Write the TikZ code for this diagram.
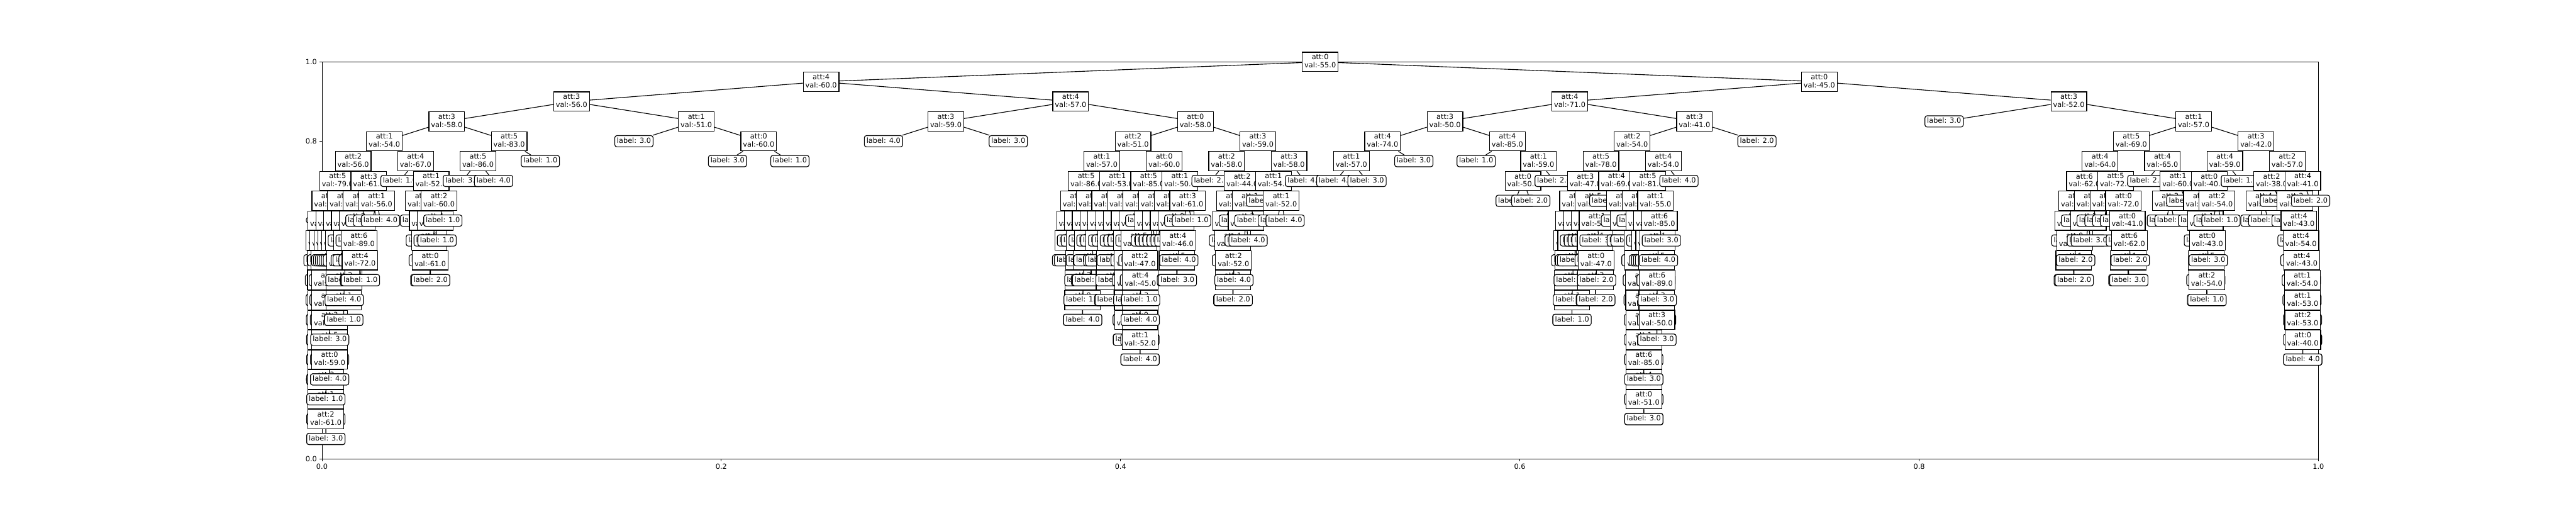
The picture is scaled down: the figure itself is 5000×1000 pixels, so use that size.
\documentclass[tikz,border=0pt]{standalone}
\usepackage{fontspec}
\setmainfont{DejaVu Sans}
\expandafter\def\csname tX@r\endcsname{2562.5}
\expandafter\def\csname tO@r\endcsname{968.75}
\expandafter\def\csname tD@r\endcsname{0}
\newcommand\place[5]{%
  \pgfmathsetmacro\tnX{\csname tX@#2\endcsname #3 \csname tO@#2\endcsname}%
  \pgfmathsetmacro\tnO{\csname tO@#2\endcsname/2}%
  \pgfmathtruncatemacro\tnD{\csname tD@#2\endcsname+1}%
  \expandafter\xdef\csname tX@#1\endcsname{\tnX}%
  \expandafter\xdef\csname tO@#1\endcsname{\tnO}%
  \expandafter\xdef\csname tD@#1\endcsname{\tnD}%
  \pgfmathsetmacro\tnY{120+38.5*\tnD}%
  \node[#4] (#1) at (\tnX,\tnY) {#5};
  \draw[edge] (#2) -- (#1);
}
\newcommand\DN[5]{\place{#1}{#2}{#3}{dec}{att:#4\\val:#5}}
\newcommand\LN[4]{\place{#1}{#2}{#3}{leaf}{label: #4}}
\begin{document}
\begin{tikzpicture}[x=0.01in,y=-0.01in,
  font=\fontsize{10}{11.3}\selectfont,
  dec/.style={draw=black,fill=white,line width=1pt,inner sep=3pt,text depth=2.3pt,minimum height=27.1pt,align=center},
  leaf/.style={draw=black,fill=white,line width=1pt,rounded corners=3pt,inner sep=3pt,text height=7.5pt,text depth=2.3pt},
  edge/.style={draw=black,line width=1pt},
  tick/.style={line width=0.8pt},
  ticklab/.style={inner sep=0pt}]
\fill[white] (0,0) rectangle (5000,1000);
\useasboundingbox (0,0) rectangle (5000,1000);
\draw[line width=0.8pt] (625,120) rectangle (4500,890);
\foreach \v/\t in {0/0.0,1/0.2,2/0.4,3/0.6,4/0.8,5/1.0} {
  \draw[tick] ({625+775*\v},890) -- ++(0,4.86);
  \node[ticklab,anchor=north] (xt\v) at ({625+775*\v},899.7) {\t};
  \draw[tick] (625,{890-154*\v}) -- ++(-4.86,0);
  \node[ticklab,anchor=east] (yt\v) at (615.3,{890-154*\v}) {\t};
}
\node[dec] (r) at (2562.5,120) {att:0\\val:-55.0};
% ===== left half =====
\DN{a}{r}{-}{4}{-60.0}
\DN{aa}{a}{-}{3}{-56.0}
\DN{aaa}{aa}{-}{3}{-58.0}
\DN{b}{aaa}{-}{1}{-54.0}
\DN{b1}{b}{-}{2}{-56.0}
\DN{b11}{b1}{-}{5}{-79.0}
\DN{c1}{b11}{-}{0}{-58.0}
\DN{c11}{c1}{-}{4}{-61.0}
\DN{c111}{c11}{-}{2}{-60.0}
\LN{A10l}{c111}{-}{1.0}
\DN{A10}{c111}{+}{4}{-60.0}
\LN{A11l}{A10}{-}{3.0}
\DN{A11}{A10}{+}{1}{-58.0}
\LN{A12l}{A11}{-}{4.0}
\DN{A12}{A11}{+}{5}{-62.0}
\LN{A13l}{A12}{-}{1.0}
\DN{A13}{A12}{+}{2}{-59.0}
\LN{A14l}{A13}{-}{3.0}
\DN{A14}{A13}{+}{0}{-57.0}
\LN{A15l}{A14}{-}{4.0}
\DN{A15}{A14}{+}{6}{-88.0}
\LN{A16l}{A15}{-}{1.0}
\DN{A16}{A15}{+}{3}{-60.0}
\DN{A17}{A16}{-}{1}{-55.0}
\LN{A18l}{A17}{-}{1.0}
\DN{A18}{A17}{+}{2}{-61.0}
\LN{A19l}{A18}{-}{1.0}
\LN{A19r}{A18}{+}{3.0}
\LN{A17r}{A16}{+}{1.0}
\DN{c112}{c11}{+}{3}{-62.0}
\LN{B10l}{c112}{-}{3.0}
\DN{B10}{c112}{+}{0}{-57.0}
\LN{B11l}{B10}{-}{1.0}
\DN{B11}{B10}{+}{4}{-61.0}
\LN{B12l}{B11}{-}{4.0}
\DN{B12}{B11}{+}{1}{-59.0}
\LN{B13l}{B12}{-}{1.0}
\DN{B13}{B12}{+}{3}{-56.0}
\DN{B14}{B13}{-}{5}{-60.0}
\LN{B15l}{B14}{-}{2.0}
\DN{B15}{B14}{+}{0}{-59.0}
\LN{B16l}{B15}{-}{1.0}
\LN{B16r}{B15}{+}{4.0}
\LN{B14r}{B13}{+}{3.0}
\DN{c12}{c1}{+}{6}{-87.0}
\DN{c121}{c12}{-}{1}{-57.0}
\LN{c1211}{c121}{-}{4.0}
\LN{c1212}{c121}{+}{1.0}
\DN{c122}{c12}{+}{2}{-55.0}
\LN{c1221}{c122}{-}{3.0}
\LN{c1222}{c122}{+}{4.0}
\DN{c2}{b11}{+}{1}{-60.0}
\DN{c21}{c2}{-}{0}{-61.0}
\DN{c211}{c21}{-}{4}{-70.0}
\LN{c2111}{c211}{-}{1.0}
\LN{c2112}{c211}{+}{3.0}
\DN{c212}{c21}{+}{2}{-57.0}
\LN{C10l}{c212}{-}{1.0}
\DN{C10}{c212}{+}{2}{-57.0}
\DN{C11}{C10}{-}{3}{-58.0}
\DN{C12}{C11}{-}{1}{-60.0}
\LN{C13l}{C12}{-}{4.0}
\LN{C13r}{C12}{+}{1.0}
\LN{C12r}{C11}{+}{4.0}
\LN{C11r}{C10}{+}{3.0}
\DN{c22}{c2}{+}{5}{-80.0}
\LN{c221}{c22}{-}{3.0}
\DN{c222}{c22}{+}{3}{-59.0}
\LN{c2221}{c222}{-}{4.0}
\LN{c2222}{c222}{+}{1.0}
\DN{b12}{b1}{+}{3}{-61.0}
\DN{c3}{b12}{-}{4}{-66.0}
\DN{c31}{c3}{-}{2}{-62.0}
\LN{c311}{c31}{-}{3.0}
\DN{c312}{c31}{+}{6}{-89.0}
\LN{D10l}{c312}{-}{2.0}
\DN{D10}{c312}{+}{4}{-72.0}
\LN{D11l}{D10}{-}{4.0}
\LN{D11r}{D10}{+}{1.0}
\LN{c32}{c3}{+}{1.0}
\DN{c4}{b12}{+}{1}{-56.0}
\LN{c41}{c4}{-}{1.0}
\LN{c42}{c4}{+}{4.0}
\DN{b2}{b}{+}{4}{-67.0}
\LN{b21}{b2}{-}{1.0}
\DN{b22}{b2}{+}{1}{-52.0}
\DN{d1}{b22}{-}{5}{-84.0}
\LN{d11}{d1}{-}{1.0}
\DN{d12}{d1}{+}{3}{-60.0}
\LN{d121}{d12}{-}{4.0}
\DN{d122}{d12}{+}{6}{-88.0}
\LN{d1221}{d122}{-}{1.0}
\DN{d1222}{d122}{+}{0}{-61.0}
\LN{d12221}{d1222}{-}{1.0}
\LN{d12222}{d1222}{+}{2.0}
\DN{d2}{b22}{+}{2}{-60.0}
\DN{d21}{d2}{-}{4}{-73.0}
\LN{d211}{d21}{-}{4.0}
\LN{d212}{d21}{+}{1.0}
\LN{d22}{d2}{+}{1.0}
\DN{e}{aaa}{+}{5}{-83.0}
\DN{e1}{e}{-}{5}{-86.0}
\LN{e11}{e1}{-}{3.0}
\LN{e12}{e1}{+}{4.0}
\LN{e2}{e}{+}{1.0}
\DN{f}{aa}{+}{1}{-51.0}
\LN{f1}{f}{-}{3.0}
\DN{f2}{f}{+}{0}{-60.0}
\LN{f21}{f2}{-}{3.0}
\LN{f22}{f2}{+}{1.0}
\DN{g}{a}{+}{4}{-57.0}
\DN{g1}{g}{-}{3}{-59.0}
\LN{g11}{g1}{-}{4.0}
\LN{g12}{g1}{+}{3.0}
\DN{h}{g}{+}{0}{-58.0}
\DN{i}{h}{-}{2}{-51.0}
\DN{i1}{i}{-}{1}{-57.0}
\DN{i11}{i1}{-}{5}{-86.0}
\DN{i111}{i11}{-}{2}{-55.0}
\DN{i1111}{i111}{-}{0}{-62.0}
\DN{i11111}{i1111}{-}{3}{-56.0}
\LN{i111111}{i11111}{-}{4.0}
\LN{i111112}{i11111}{+}{1.0}
\LN{i11112}{i1111}{+}{3.0}
\DN{i1112}{i111}{+}{4}{-63.0}
\LN{i11121}{i1112}{-}{1.0}
\DN{i11122}{i1112}{+}{1}{-58.0}
\DN{q10}{i11122}{-}{5}{-80.0}
\DN{q11}{q10}{-}{2}{-59.0}
\DN{q12}{q11}{-}{0}{-60.0}
\LN{q13l}{q12}{-}{3.0}
\LN{q13r}{q12}{+}{4.0}
\LN{q12r}{q11}{+}{1.0}
\LN{q11r}{q10}{+}{4.0}
\LN{q10r}{i11122}{+}{3.0}
\DN{i112}{i11}{+}{3}{-60.0}
\DN{i1121}{i112}{-}{6}{-84.0}
\LN{i11211}{i1121}{-}{4.0}
\DN{i11212}{i1121}{+}{2}{-59.0}
\DN{i112121}{i11212}{-}{0}{-57.0}
\LN{i1121211}{i112121}{-}{1.0}
\LN{i1121212}{i112121}{+}{4.0}
\LN{i112122}{i11212}{+}{3.0}
\DN{i1122}{i112}{+}{1}{-56.0}
\LN{i11221}{i1122}{-}{2.0}
\LN{i11222}{i1122}{+}{4.0}
\DN{i12}{i1}{+}{1}{-53.0}
\DN{i121}{i12}{-}{4}{-62.0}
\DN{i1211}{i121}{-}{3}{-57.0}
\DN{i12111}{i1211}{-}{5}{-81.0}
\LN{i121111}{i12111}{-}{1.0}
\LN{i121112}{i12111}{+}{4.0}
\LN{i12112}{i1211}{+}{3.0}
\DN{i1212}{i121}{+}{0}{-59.0}
\LN{i12121}{i1212}{-}{4.0}
\DN{i12122}{i1212}{+}{2}{-56.0}
\DN{i121221}{i12122}{-}{1}{-55.0}
\DN{i1212211}{i121221}{-}{6}{-86.0}
\LN{s1}{i1212211}{-}{3.0}
\LN{s2}{i1212211}{+}{1.0}
\LN{s3}{i121221}{+}{4.0}
\LN{s4}{i12122}{+}{1.0}
\DN{i122}{i12}{+}{5}{-84.0}
\DN{i1221}{i122}{-}{2}{-58.0}
\LN{i12211}{i1221}{-}{1.0}
\LN{i12212}{i1221}{+}{4.0}
\DN{i1222}{i122}{+}{0}{-60.0}
\LN{E9l}{i1222}{-}{3.0}
\DN{E9}{i1222}{+}{3}{-61.0}
\LN{E10l}{E9}{-}{1.0}
\DN{E10}{E9}{+}{4}{-59.0}
\LN{E11l}{E10}{-}{4.0}
\DN{E11}{E10}{+}{1}{-57.0}
\DN{E12}{E11}{-}{2}{-55.0}
\LN{E13l}{E12}{-}{4.0}
\DN{E13}{E12}{+}{0}{-58.0}
\LN{E14l}{E13}{-}{1.0}
\LN{E14r}{E13}{+}{2.0}
\LN{E12r}{E11}{+}{3.0}
\DN{i2}{i}{+}{0}{-60.0}
\DN{i21}{i2}{-}{5}{-85.0}
\DN{i211}{i21}{-}{3}{-60.0}
\DN{i2111}{i211}{-}{4}{-58.0}
\LN{F9l}{i2111}{-}{4.0}
\DN{F9}{i2111}{+}{5}{-82.0}
\LN{F10l}{F9}{-}{1.0}
\DN{F10}{F9}{+}{2}{-47.0}
\LN{F11l}{F10}{-}{3.0}
\DN{F11}{F10}{+}{4}{-45.0}
\DN{F12}{F11}{-}{3}{-57.0}
\DN{F13}{F12}{-}{0}{-59.0}
\LN{F14l}{F13}{-}{2.0}
\DN{F14}{F13}{+}{1}{-52.0}
\LN{F15l}{F14}{-}{1.0}
\LN{F15r}{F14}{+}{4.0}
\LN{F13r}{F12}{+}{4.0}
\LN{F12r}{F11}{+}{1.0}
\LN{i2112}{i211}{+}{4.0}
\DN{i212}{i21}{+}{1}{-55.0}
\DN{i2121}{i212}{-}{0}{-57.0}
\LN{i21211}{i2121}{-}{3.0}
\LN{i21212}{i2121}{+}{1.0}
\DN{i2122}{i212}{+}{6}{-85.0}
\LN{i21221}{i2122}{-}{4.0}
\LN{i21222}{i2122}{+}{3.0}
\DN{i22}{i2}{+}{1}{-50.0}
\DN{i221}{i22}{-}{2}{-56.0}
\DN{i2211}{i221}{-}{4}{-62.0}
\LN{i22111}{i2211}{-}{1.0}
\LN{i22112}{i2211}{+}{4.0}
\DN{i2212}{i221}{+}{0}{-59.0}
\LN{i22121}{i2212}{-}{2.0}
\DN{i22122}{i2212}{+}{4}{-46.0}
\DN{G10}{i22122}{-}{5}{-84.0}
\LN{G11l}{G10}{-}{1.0}
\LN{G11r}{G10}{+}{3.0}
\LN{G10r}{i22122}{+}{4.0}
\DN{i222}{i22}{+}{3}{-61.0}
\LN{i2221}{i222}{-}{4.0}
\LN{i2222}{i222}{+}{1.0}
\DN{j}{h}{+}{3}{-59.0}
\DN{j1}{j}{-}{2}{-58.0}
\LN{j11}{j1}{-}{2.0}
\DN{j12}{j1}{+}{2}{-44.0}
\DN{j121}{j12}{-}{0}{-60.0}
\DN{j1211}{j121}{-}{5}{-83.0}
\LN{j12111}{j1211}{-}{1.0}
\DN{j12112}{j1211}{+}{4}{-62.0}
\LN{H10l}{j12112}{-}{3.0}
\DN{H10}{j12112}{+}{2}{-52.0}
\DN{H11}{H10}{-}{1}{-56.0}
\LN{H12l}{H11}{-}{4.0}
\LN{H12r}{H11}{+}{2.0}
\LN{H11r}{H10}{+}{4.0}
\LN{j1212}{j121}{+}{1.0}
\DN{j122}{j12}{+}{1}{-49.0}
\DN{j1221}{j122}{-}{3}{-57.0}
\LN{j12211}{j1221}{-}{2.0}
\LN{j12212}{j1221}{+}{4.0}
\LN{j1222}{j122}{+}{1.0}
\DN{j2}{j}{+}{3}{-58.0}
\DN{j21}{j2}{-}{1}{-54.0}
\LN{j211}{j21}{-}{2.0}
\DN{j212}{j21}{+}{1}{-52.0}
\LN{j2121}{j212}{-}{1.0}
\LN{j2122}{j212}{+}{4.0}
\LN{j22}{j2}{+}{4.0}
% ===== right half =====
\DN{k}{r}{+}{0}{-45.0}
\DN{kl}{k}{-}{4}{-71.0}
\DN{m}{kl}{-}{3}{-50.0}
\DN{m1}{m}{-}{4}{-74.0}
\DN{m11}{m1}{-}{1}{-57.0}
\LN{m111}{m11}{-}{4.0}
\LN{m112}{m11}{+}{3.0}
\LN{m12}{m1}{+}{3.0}
\DN{m2}{m}{+}{4}{-85.0}
\LN{m21}{m2}{-}{1.0}
\DN{m22}{m2}{+}{1}{-59.0}
\DN{m221}{m22}{-}{0}{-50.0}
\LN{m2211}{m221}{-}{1.0}
\LN{m2212}{m221}{+}{2.0}
\LN{m222}{m22}{+}{2.0}
\DN{n}{kl}{+}{3}{-41.0}
\DN{n1}{n}{-}{2}{-54.0}
\DN{n11}{n1}{-}{5}{-78.0}
\DN{n111}{n11}{-}{3}{-47.0}
\DN{n1111}{n111}{-}{1}{-58.0}
\DN{n11111}{n1111}{-}{4}{-60.0}
\DN{K9}{n11111}{-}{2}{-56.0}
\LN{K10l}{K9}{-}{3.0}
\DN{K10}{K9}{+}{0}{-57.0}
\DN{K11}{K10}{-}{5}{-79.0}
\DN{K12}{K11}{-}{1}{-55.0}
\LN{K13l}{K12}{-}{4.0}
\LN{K13r}{K12}{+}{1.0}
\LN{K12r}{K11}{+}{2.0}
\LN{K11r}{K10}{+}{3.0}
\DN{K9r}{n11111}{+}{6}{-86.0}
\LN{K9r1}{K9r}{-}{1.0}
\LN{K9r2}{K9r}{+}{2.0}
\DN{n11112}{n1111}{+}{0}{-55.0}
\LN{n111121}{n11112}{-}{2.0}
\LN{n111122}{n11112}{+}{3.0}
\DN{n1112}{n111}{+}{5}{-50.0}
\DN{n11121}{n1112}{-}{2}{-59.0}
\LN{n111211}{n11121}{-}{1.0}
\LN{n111212}{n11121}{+}{3.0}
\DN{n11122}{n1112}{+}{1}{-53.0}
\DN{L9}{n11122}{-}{4}{-60.0}
\LN{L10l}{L9}{-}{1.0}
\DN{L10}{L9}{+}{0}{-47.0}
\DN{L11}{L10}{-}{3}{-56.0}
\LN{L12l}{L11}{-}{1.0}
\LN{L12r}{L11}{+}{2.0}
\LN{L11r}{L10}{+}{2.0}
\LN{L9r}{n11122}{+}{3.0}
\DN{n112}{n11}{+}{4}{-69.0}
\LN{n1121}{n112}{-}{2.0}
\DN{n1122}{n112}{+}{2}{-57.0}
\LN{n11221}{n1122}{-}{1.0}
\DN{n11222}{n1122}{+}{4}{-62.0}
\LN{n112221}{n11222}{-}{2.0}
\LN{n112222}{n11222}{+}{3.0}
\DN{n12}{n1}{+}{4}{-54.0}
\DN{n121}{n12}{-}{5}{-81.0}
\DN{n1211}{n121}{-}{0}{-52.0}
\LN{n12111}{n1211}{-}{3.0}
\DN{n12112}{n1211}{+}{2}{-60.0}
\DN{M9}{n12112}{-}{1}{-57.0}
\LN{M10l}{M9}{-}{4.0}
\DN{M10}{M9}{+}{3}{-59.0}
\LN{M11l}{M10}{-}{2.0}
\DN{M11}{M10}{+}{0}{-56.0}
\LN{M12l}{M11}{-}{3.0}
\DN{M12}{M11}{+}{4}{-61.0}
\LN{M13l}{M12}{-}{1.0}
\DN{M13}{M12}{+}{2}{-58.0}
\LN{M14l}{M13}{-}{2.0}
\DN{M14}{M13}{+}{1}{-57.0}
\LN{M15l}{M14}{-}{1.0}
\DN{M15}{M14}{+}{6}{-85.0}
\DN{M16}{M15}{-}{4}{-60.0}
\LN{M17l}{M16}{-}{2.0}
\DN{M17}{M16}{+}{0}{-51.0}
\LN{M18l}{M17}{-}{1.0}
\LN{M18r}{M17}{+}{3.0}
\LN{M16r}{M15}{+}{3.0}
\LN{M9r}{n12112}{+}{4.0}
\DN{n1212}{n121}{+}{1}{-55.0}
\DN{n12121}{n1212}{-}{3}{-58.0}
\DN{n121211}{n12121}{-}{2}{-60.0}
\LN{n1212111}{n121211}{-}{1.0}
\LN{n1212112}{n121211}{+}{4.0}
\DN{n121212}{n12121}{+}{0}{-56.0}
\LN{n1212121}{n121212}{-}{3.0}
\LN{n1212122}{n121212}{+}{2.0}
\DN{n12122}{n1212}{+}{6}{-85.0}
\DN{N9}{n12122}{-}{1}{-56.0}
\DN{N10}{N9}{-}{5}{-80.0}
\LN{N11l}{N10}{-}{1.0}
\DN{N11}{N10}{+}{6}{-89.0}
\DN{N12}{N11}{-}{3}{-58.0}
\LN{N13l}{N12}{-}{2.0}
\DN{N13}{N12}{+}{3}{-50.0}
\LN{N14l}{N13}{-}{1.0}
\LN{N14r}{N13}{+}{3.0}
\LN{N12r}{N11}{+}{3.0}
\LN{N10r}{N9}{+}{4.0}
\LN{N9r}{n12122}{+}{3.0}
\LN{n122}{n12}{+}{4.0}
\LN{n2}{n}{+}{2.0}
\DN{o}{k}{+}{3}{-52.0}
\LN{o1}{o}{-}{3.0}
\DN{p}{o}{+}{1}{-57.0}
\DN{p1}{p}{-}{5}{-69.0}
\DN{p11}{p1}{-}{4}{-64.0}
\DN{p111}{p11}{-}{6}{-62.0}
\DN{p1111}{p111}{-}{2}{-39.0}
\DN{p11111}{p1111}{-}{0}{-36.0}
\LN{p111111}{p11111}{-}{2.0}
\DN{p111112}{p11111}{+}{0}{-35.0}
\DN{p1111121}{p111112}{-}{1}{-62.0}
\LN{p11111211}{p1111121}{-}{3.0}
\LN{p11111212}{p1111121}{+}{2.0}
\LN{p1111122}{p111112}{+}{2.0}
\LN{p11112}{p1111}{+}{3.0}
\DN{p1112}{p111}{+}{4}{-41.0}
\DN{p11121}{p1112}{-}{1}{-37.0}
\LN{p111211}{p11121}{-}{2.0}
\LN{p111212}{p11121}{+}{3.0}
\LN{p11122}{p1112}{+}{2.0}
\DN{p112}{p11}{+}{5}{-72.0}
\DN{p1121}{p112}{-}{0}{-44.0}
\LN{p11211}{p1121}{-}{2.0}
\LN{p11212}{p1121}{+}{3.0}
\DN{p1122}{p112}{+}{0}{-72.0}
\LN{p11221}{p1122}{-}{2.0}
\DN{p11222}{p1122}{+}{0}{-41.0}
\LN{p112221}{p11222}{-}{3.0}
\DN{p112222}{p11222}{+}{6}{-62.0}
\DN{p1122221}{p112222}{-}{1}{-48.0}
\LN{p11222211}{p1122221}{-}{2.0}
\LN{p11222212}{p1122221}{+}{3.0}
\LN{p1122222}{p112222}{+}{2.0}
\DN{p12}{p1}{+}{4}{-65.0}
\LN{p121}{p12}{-}{2.0}
\DN{p122}{p12}{+}{1}{-60.0}
\DN{p1221}{p122}{-}{2}{-43.0}
\LN{p12211}{p1221}{-}{3.0}
\LN{p12212}{p1221}{+}{2.0}
\LN{p1222}{p122}{+}{1.0}
\DN{p2}{p}{+}{3}{-42.0}
\DN{p21}{p2}{-}{4}{-59.0}
\DN{p211}{p21}{-}{0}{-40.0}
\DN{p2111}{p211}{-}{4}{-65.0}
\LN{p21111}{p2111}{-}{2.0}
\DN{p21112}{p2111}{+}{1}{-58.0}
\LN{p211121}{p21112}{-}{3.0}
\DN{p211122}{p21112}{+}{0}{-43.0}
\DN{p2111221}{p211122}{-}{5}{-70.0}
\LN{p21112211}{p2111221}{-}{3.0}
\DN{p21112212}{p2111221}{+}{2}{-54.0}
\LN{p211122121}{p21112212}{-}{2.0}
\LN{p211122122}{p21112212}{+}{1.0}
\LN{p2111222}{p211122}{+}{3.0}
\DN{p2112}{p211}{+}{2}{-54.0}
\LN{p21121}{p2112}{-}{3.0}
\LN{p21122}{p2112}{+}{1.0}
\LN{p212}{p21}{+}{1.0}
\DN{p22}{p2}{+}{2}{-57.0}
\DN{p221}{p22}{-}{2}{-38.0}
\DN{p2211}{p221}{-}{4}{-43.0}
\LN{p22111}{p2211}{-}{2.0}
\LN{p22112}{p2211}{+}{2.0}
\LN{p2212}{p221}{+}{2.0}
\DN{p222}{p22}{+}{4}{-41.0}
\DN{p2221}{p222}{-}{3}{-43.0}
\LN{R8l}{p2221}{-}{2.0}
\DN{R8}{p2221}{+}{4}{-43.0}
\LN{R9l}{R8}{-}{2.0}
\DN{R9}{R8}{+}{4}{-54.0}
\LN{R10l}{R9}{-}{3.0}
\DN{R10}{R9}{+}{4}{-43.0}
\LN{R11l}{R10}{-}{1.0}
\DN{R11}{R10}{+}{1}{-54.0}
\LN{R12l}{R11}{-}{3.0}
\DN{R12}{R11}{+}{1}{-53.0}
\LN{R13l}{R12}{-}{1.0}
\DN{R13}{R12}{+}{2}{-53.0}
\LN{R14l}{R13}{-}{2.0}
\DN{R14}{R13}{+}{0}{-40.0}
\LN{R15l}{R14}{-}{1.0}
\LN{R15r}{R14}{+}{4.0}
\LN{p2222}{p222}{+}{2.0}
\end{tikzpicture}
\end{document}
